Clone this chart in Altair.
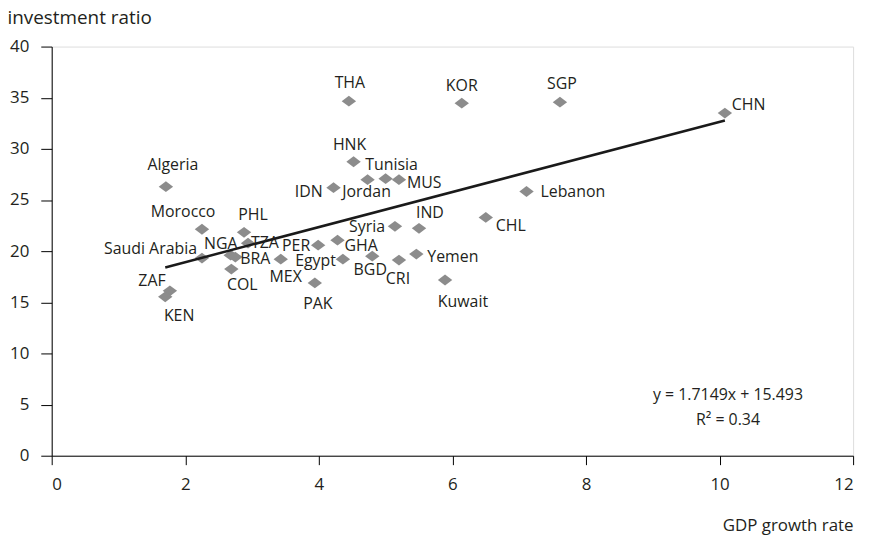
import altair as alt
import pandas as pd

# ---- data ----
countries = ["THA", "KOR", "SGP", "CHN", "Algeria", "HNK", "Tunisia", "Jordan", "MUS",
             "IDN", "Lebanon", "IND", "Syria", "CHL", "Morocco", "PHL", "TZA", "GHA",
             "PER", "NGA", "BRA", "Saudi Arabia", "MEX", "Egypt", "BGD", "CRI", "Yemen",
             "COL", "Kuwait", "PAK", "ZAF", "KEN"]
gdp_growth = [4.45, 6.14, 7.61, 10.08, 1.71, 4.52, 5.00, 4.73, 5.20,
              4.22, 7.11, 5.50, 5.14, 6.50, 2.25, 2.88, 2.94, 4.28,
              3.99, 2.68, 2.75, 2.25, 3.43, 4.36, 4.80, 5.20, 5.46,
              2.69, 5.89, 3.94, 1.77, 1.70]
investment = [34.66, 34.47, 34.56, 33.50, 26.30, 28.74, 27.09, 26.99, 26.99,
              26.21, 25.83, 22.23, 22.43, 23.30, 22.14, 21.84, 20.78, 21.07,
              20.58, 19.61, 19.42, 19.32, 19.22, 19.22, 19.51, 19.13, 19.71,
              18.25, 17.18, 16.89, 16.12, 15.53]

slope = 1.7149
intercept = 15.493
eq_text = "y = 1.7149x + 15.493"
r2_text = "R\u00b2 = 0.34"

x_ticks = [0, 2, 4, 6, 8, 10, 12]
y_ticks = [0, 5, 10, 15, 20, 25, 30, 35, 40]

# ---- label placement (style: align, dx, dy in pixels) ----
placement = {
    "THA": ("center", 1, -18), "KOR": ("center", 0, -17), "SGP": ("center", 2, -18),
    "CHN": ("left", 7, -8), "Algeria": ("center", 7, -22), "HNK": ("center", -4, -17),
    "Tunisia": ("center", 6, -14), "Jordan": ("center", -1, 12), "MUS": ("left", 8, 3),
    "IDN": ("right", -11, 4), "Lebanon": ("left", 14, 1), "IND": ("center", 11, -15),
    "Syria": ("right", -10, 1), "CHL": ("left", 10, 9), "Morocco": ("center", -19, -17),
    "PHL": ("center", 9, -17), "TZA": ("left", 3, 0), "GHA": ("left", 7, 6),
    "PER": ("right", -8, 1), "NGA": ("center", -10, -11), "BRA": ("left", 5, 2),
    "Saudi Arabia": ("right", -5, -9), "MEX": ("center", 5, 18), "Egypt": ("right", -7, 2),
    "BGD": ("center", -2, 14), "CRI": ("center", -1, 19), "Yemen": ("left", 11, 3),
    "COL": ("center", 11, 16), "Kuwait": ("center", 18, 22), "PAK": ("center", 3, 21),
    "ZAF": ("center", -18, -10), "KEN": ("center", 14, 19),
}

FONT = "Open Sans"
TXT = "#231f20"

df = pd.DataFrame({"country": countries, "gdp": gdp_growth, "inv": investment})
xmin, xmax = min(gdp_growth), max(gdp_growth)
trend = pd.DataFrame({"gdp": [xmin, xmax],
                      "inv": [slope * xmin + intercept, slope * xmax + intercept]})

xscale = alt.Scale(domain=[0, 12], nice=False)
yscale = alt.Scale(domain=[0, 40], nice=False)

xaxis = alt.Axis(values=x_ticks, format="d", grid=False, tickSize=9, labelPadding=12,
                 labelFontSize=17, labelFont=FONT, labelColor=TXT,
                 domainColor="black", tickColor="black",
                 title="GDP growth rate", titleFont=FONT, titleFontSize=17,
                 titleFontWeight="normal", titleColor=TXT,
                 titleAlign="right", titleX=807, titleY=70, titleBaseline="middle")
yaxis = alt.Axis(values=y_ticks, format="d", grid=False, tickSize=11, labelPadding=12,
                 labelFontSize=17, labelFont=FONT, labelColor=TXT,
                 domainColor="black", tickColor="black",
                 title="investment ratio", titleFont=FONT, titleFontSize=19,
                 titleFontWeight="normal", titleColor=TXT, titleAngle=0,
                 titleAlign="left", titleX=-45, titleY=-23, titleBaseline="alphabetic")

base = alt.Chart(df)

points = base.mark_point(shape="M-1,0L0,-0.75L1,0L0,0.75Z", filled=True, size=210,
                         color="#8c8c8c", opacity=1).encode(
    x=alt.X("gdp:Q", scale=xscale, axis=xaxis),
    y=alt.Y("inv:Q", scale=yscale, axis=yaxis),
)

line = alt.Chart(trend).mark_line(color="#1a1a1a", strokeWidth=2.5).encode(
    x=alt.X("gdp:Q", scale=xscale),
    y=alt.Y("inv:Q", scale=yscale),
)

label_layers = []
for name in countries:
    align, dx, dy = placement[name]
    label_layers.append(
        base.transform_filter(alt.datum.country == name)
        .mark_text(align=align, baseline="middle", dx=dx, dy=dy,
                   font=FONT, fontSize=16, color=TXT)
        .encode(x=alt.X("gdp:Q", scale=xscale),
                y=alt.Y("inv:Q", scale=yscale),
                text="country:N")
    )

ann = pd.DataFrame({"t": [eq_text, r2_text], "row": [0, 1]})
eq = alt.Chart(ann).transform_filter(alt.datum.row == 0).mark_text(
    font=FONT, fontSize=16, color=TXT, align="center", baseline="middle").encode(
    x=alt.value(681), y=alt.value(351), text="t:N")
r2 = alt.Chart(ann).transform_filter(alt.datum.row == 1).mark_text(
    font=FONT, fontSize=16, color=TXT, align="center", baseline="middle").encode(
    x=alt.value(681), y=alt.value(376), text="t:N")

chart = alt.layer(points, line, *label_layers, eq, r2).properties(
    width=807, height=412,
    autosize=alt.AutoSizeParams(type="none"),
    padding={"left": 44, "top": 37, "right": 15, "bottom": 80},
).configure_view(stroke="black", strokeWidth=1).configure(background="white")

chart.save("out.html", embed_options={"renderer": "svg", "actions": False})
